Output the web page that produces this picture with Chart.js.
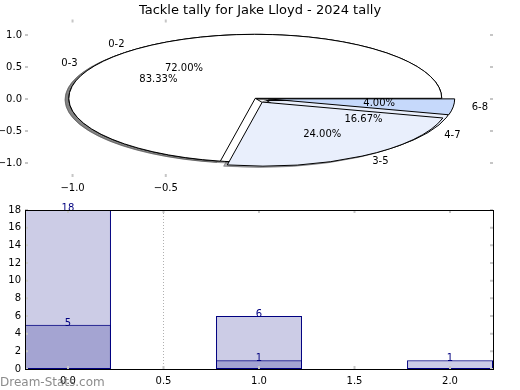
<!DOCTYPE html>
<html lang="en">
<head>
<meta charset="UTF-8">
<title>Tackle tally for Jake Lloyd</title>
<script src="https://cdn.jsdelivr.net/npm/chart.js@4/dist/chart.umd.min.js"></script>
<style>
  body { margin: 0; background: #fff; }
  #wrap { position: relative; width: 520px; height: 390px; overflow: hidden; }
  #pie { position: absolute; left: 0; top: 0; }
  #bars { position: absolute; left: 0; top: 195px; }
  #mark { position: absolute; left: 0; top: 374px; font: 12px 'DejaVu Sans'; line-height: 16px; color: rgba(110,110,110,0.8); }
</style>
</head>
<body>
<div id="wrap">
  <canvas id="pie" width="520" height="195"></canvas>
  <canvas id="bars" width="520" height="195"></canvas>
  <div id="mark">Dream-Stats.com</div>
</div>
<script>
const chartTitle = 'Tackle tally for Jake Lloyd - 2024 tally';

// top pie, drawn last
const outerLabels = ['0-2', '3-5', '6-8'];
const outerValues = [18, 6, 1];
const outerColors = ['#ffffff', '#e9effc', '#c6d9fb'];
const outerExplode = [0, 0.07, 0.07];

// pie underneath
const innerLabels = ['0-3', '4-7'];
const innerValues = [5, 1];
const innerColors = ['#ffffff', '#e9effc'];
const innerExplode = [0, 0.07];

// bars
const barPositions = [0, 1, 2];
const barTotals = [18, 6, 1];
const barInner = [5, 1, null];

const pieXTicks = [-1, -0.5];
const pieYTicks = [-1, -0.5, 0, 0.5, 1];
const barXTicks = [0, 0.5, 1, 1.5, 2];
const barYTicks = [0, 2, 4, 6, 8, 10, 12, 14, 16, 18];

Chart.defaults.font.family = "'DejaVu Sans'";
Chart.defaults.font.size = 10;
Chart.defaults.color = '#000';

const R0 = 100;                 // pie radius in canvas px before squashing
const pieCenter = [-0.02, 0.01];
const shadowOff = 0.02;

// chart.js draws clockwise, matplotlib counter-clockwise: reverse the slices
const rev = a => a.slice().reverse();
const pieLabels = [rev(innerLabels), rev(outerLabels)];
const pieExplode = [rev(innerExplode), rev(outerExplode)];

const fmt = v => v.toFixed(1).replace('-', '\u2212');
const noGrid = { display: false, drawTicks: false };

function shade(hex) {
  const n = parseInt(hex.slice(1), 16);
  const r = (n >> 16) & 255, g = (n >> 8) & 255, b = n & 255;
  return 'rgba(' + Math.round(r * 0.3) + ',' + Math.round(g * 0.3) + ',' + Math.round(b * 0.3) + ',0.45)';
}

function tickMarks(chart, xs, ys) {
  const ctx = chart.ctx, a = chart.chartArea;
  const sx = chart.scales.x, sy = chart.scales.y;
  ctx.save();
  ctx.strokeStyle = '#c6c6c6';
  ctx.lineWidth = 2;
  ctx.beginPath();
  xs.forEach(v => {
    const p = sx.getPixelForValue(v);
    ctx.moveTo(p, a.top); ctx.lineTo(p, a.top + 3);
    ctx.moveTo(p, a.bottom); ctx.lineTo(p, a.bottom - 3);
  });
  ys.forEach(v => {
    const p = sy.getPixelForValue(v);
    ctx.moveTo(a.left, p); ctx.lineTo(a.left + 3, p);
    ctx.moveTo(a.right, p); ctx.lineTo(a.right - 3, p);
  });
  ctx.stroke();
  ctx.restore();
}

function pieGeom(chart) {
  const sx = chart.scales.x, sy = chart.scales.y;
  return {
    cx: sx.getPixelForValue(pieCenter[0]),
    cy: sy.getPixelForValue(pieCenter[1]),
    kx: (sx.getPixelForValue(1) - sx.getPixelForValue(0)) / R0,
    ky: (sy.getPixelForValue(0) - sy.getPixelForValue(1)) / R0
  };
}

const piePlugin = {
  id: 'squashedPie',
  afterDatasetsUpdate(chart) {
    // both pies full size, not rings
    chart.data.datasets.forEach((ds, i) => {
      chart.getDatasetMeta(i).data.forEach(arc => { arc.outerRadius = R0; arc.innerRadius = 0; });
    });
  },
  beforeDatasetsDraw(chart) {
    const ctx = chart.ctx;
    const g = pieGeom(chart);
    const base = ctx.getTransform();
    const stroke = ctx.stroke;
    // keep line width even after squashing
    ctx.stroke = function () { this.save(); this.setTransform(base); stroke.call(this); this.restore(); };
    const metas = chart.data.datasets.map((ds, i) => chart.getDatasetMeta(i));
    const pass = shadow => metas.forEach((meta, di) => meta.data.forEach((arc, j) => {
      const mid = (arc.startAngle + arc.endAngle) / 2;
      const e = pieExplode[di][j] * R0;
      ctx.save();
      ctx.translate(g.cx, g.cy);
      ctx.scale(g.kx, g.ky);
      ctx.translate(-arc.x, -arc.y);
      ctx.translate(e * Math.cos(mid), e * Math.sin(mid));
      if (shadow) {
        ctx.translate(-shadowOff * R0, shadowOff * R0);
        const o = arc.options;
        const col = shade(chart.data.datasets[di].backgroundColor[j]);
        arc.options = Object.assign({}, o, { backgroundColor: col, borderColor: col });
        arc.draw(ctx);
        arc.options = o;
      } else {
        arc.draw(ctx);
      }
      ctx.restore();
    }));
    pass(true);
    pass(false);
    delete ctx.stroke;
    return false;
  },
  afterDraw(chart) {
    const ctx = chart.ctx;
    const g = pieGeom(chart);
    ctx.save();
    ctx.font = "10px 'DejaVu Sans'";
    ctx.fillStyle = '#000';
    ctx.textBaseline = 'middle';
    chart.data.datasets.forEach((ds, di) => {
      const total = ds.data.reduce((a, b) => a + b, 0);
      chart.getDatasetMeta(di).data.forEach((arc, j) => {
        const mid = (arc.startAngle + arc.endAngle) / 2;
        const c = Math.cos(mid), s = Math.sin(mid);
        const e = pieExplode[di][j];
        const at = r => [g.cx + g.kx * R0 * (e + r) * c, g.cy + g.ky * R0 * (e + r) * s];
        let p = at(1.1);
        ctx.textAlign = c > 0 ? 'left' : 'right';
        ctx.fillText(pieLabels[di][j], p[0], p[1]);
        p = at(0.6);
        ctx.textAlign = 'center';
        ctx.fillText((ds.data[j] / total * 100).toFixed(2) + '%', p[0], p[1]);
      });
    });
    ctx.restore();
    tickMarks(chart, pieXTicks, pieYTicks);
  }
};

new Chart(document.getElementById('pie'), {
  type: 'pie',
  data: {
    labels: rev(outerLabels),
    datasets: [
      { data: rev(innerValues), backgroundColor: rev(innerColors), borderColor: '#000', borderWidth: 1 },
      { data: rev(outerValues), backgroundColor: rev(outerColors), borderColor: '#000', borderWidth: 1 }
    ]
  },
  options: {
    responsive: false,
    animation: false,
    events: [],
    rotation: 90,
    radius: R0,
    layout: { padding: 0 },
    plugins: {
      legend: { display: false },
      tooltip: { enabled: false },
      title: { display: true, text: chartTitle, color: '#000', font: { size: 13, weight: 'normal' }, padding: { top: 3, bottom: 1 } }
    },
    scales: {
      x: {
        type: 'linear', position: 'bottom', min: -1.255, max: 1.255,
        grid: noGrid, border: { display: false },
        ticks: { padding: 5, color: '#000', callback: fmt },
        afterBuildTicks: s => { s.ticks = pieXTicks.map(v => ({ value: v })); },
        afterFit: s => { s.height = 18; }
      },
      y: {
        type: 'linear', position: 'left', min: -1.22, max: 1.24,
        grid: noGrid, border: { display: false },
        ticks: { padding: 3, color: '#000', callback: fmt },
        afterBuildTicks: s => { s.ticks = pieYTicks.map(v => ({ value: v })); },
        afterFit: s => { s.width = 25; }
      },
      yr: {
        type: 'linear', position: 'right', min: -1.22, max: 1.24,
        grid: noGrid, border: { display: false },
        ticks: { display: false },
        afterFit: s => { s.width = 27; }
      }
    }
  },
  plugins: [piePlugin]
});

const barPlugin = {
  id: 'barExtras',
  beforeDatasetsDraw(chart) {
    const ctx = chart.ctx, a = chart.chartArea;
    const p = chart.scales.x.getPixelForValue(0.5);
    ctx.save();
    ctx.strokeStyle = '#b0b0b0';
    ctx.lineWidth = 1;
    ctx.setLineDash([1, 2]);
    ctx.beginPath();
    ctx.moveTo(Math.round(p) + 0.5, a.top);
    ctx.lineTo(Math.round(p) + 0.5, a.bottom);
    ctx.stroke();
    ctx.restore();
  },
  afterDatasetsDraw(chart) {
    const ctx = chart.ctx, a = chart.chartArea;
    ctx.save();
    ctx.font = "10px 'DejaVu Sans'";
    ctx.fillStyle = '#000080';
    ctx.textAlign = 'center';
    ctx.textBaseline = 'alphabetic';
    chart.data.datasets.forEach((ds, di) => {
      chart.getDatasetMeta(di).data.forEach((bar, j) => {
        ctx.fillText(String(ds.data[j].y), bar.x, bar.y + 1);
      });
    });
    ctx.restore();
    tickMarks(chart, barXTicks, barYTicks);
    ctx.save();
    ctx.strokeStyle = '#000';
    ctx.lineWidth = 1;
    const l = Math.round(a.left) + 0.5, t = Math.round(a.top) + 0.5;
    ctx.strokeRect(l, t, Math.round(a.right) - Math.round(a.left), Math.round(a.bottom) - Math.round(a.top));
    ctx.restore();
  }
};

const pts = vals => barPositions.map((x, i) => ({ x: x, y: vals[i] })).filter(p => p.y !== null);

new Chart(document.getElementById('bars'), {
  type: 'bar',
  data: {
    datasets: [
      { data: pts(barInner), backgroundColor: 'rgba(0,0,128,0.2)', borderColor: '#000080', borderWidth: 1, borderSkipped: false, order: 0 },
      { data: pts(barTotals), backgroundColor: 'rgba(0,0,128,0.2)', borderColor: '#000080', borderWidth: 1, borderSkipped: false, order: 1 }
    ]
  },
  options: {
    responsive: false,
    animation: false,
    events: [],
    grouped: false,
    barPercentage: 1,
    // the ruler takes the 0.5 tick spacing, so 0.9 gives bars 0.45 wide
    categoryPercentage: 0.9,
    layout: { padding: { top: 15, right: 27 } },
    plugins: { legend: { display: false }, tooltip: { enabled: false } },
    scales: {
      x: {
        type: 'linear', offset: false, min: -0.225, max: 2.225,
        grid: noGrid, border: { display: false },
        ticks: { padding: 6, color: '#000', callback: v => v.toFixed(1) },
        afterBuildTicks: s => { s.ticks = barXTicks.map(v => ({ value: v })); },
        afterFit: s => { s.height = 21; }
      },
      y: {
        type: 'linear', min: 0, max: 18,
        grid: noGrid, border: { display: false },
        ticks: { padding: 4, color: '#000', callback: v => String(v) },
        afterBuildTicks: s => { s.ticks = barYTicks.map(v => ({ value: v })); },
        afterFit: s => { s.width = 25; }
      }
    }
  },
  plugins: [barPlugin]
});
</script>
</body>
</html>
